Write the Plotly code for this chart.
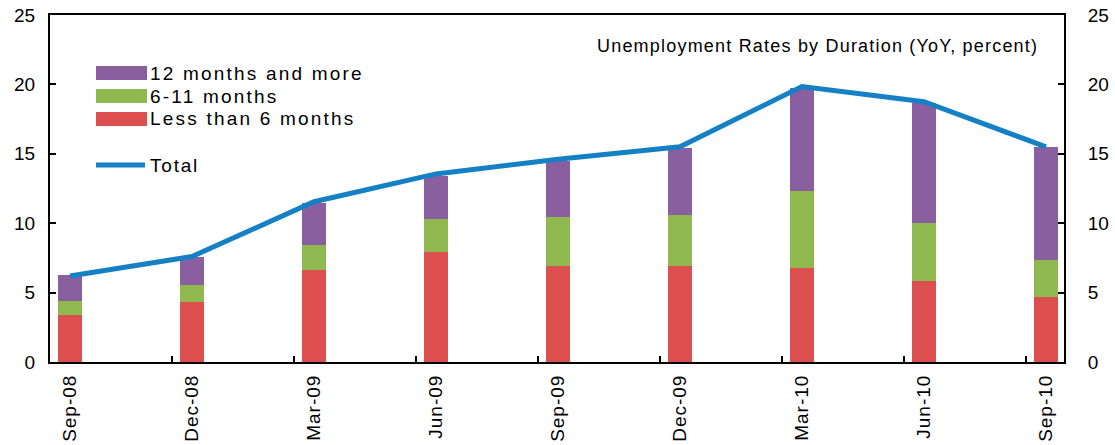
import plotly.graph_objects as go

categories = ["Sep-08", "Dec-08", "Mar-09", "Jun-09", "Sep-09", "Dec-09", "Mar-10", "Jun-10", "Sep-10"]
less_than_6 = [3.4, 4.35, 6.65, 7.9, 6.95, 6.95, 6.8, 5.85, 4.65]
m6_11 = [1.0, 1.2, 1.75, 2.4, 3.5, 3.65, 5.55, 4.2, 2.7]
m12_plus = [1.85, 2.05, 3.05, 3.1, 4.0, 4.85, 7.4, 8.6, 8.15]
total = [6.2, 7.6, 11.55, 13.55, 14.6, 15.5, 19.85, 18.75, 15.5]
y_ticks = [0, 5, 10, 15, 20, 25]

RED = "#DD4F4E"
GREEN = "#8FB84E"
PURPLE = "#8A5FA0"
BLUE = "#1580C4"
FONT = "Liberation Sans, Arial, sans-serif"


def spaced(s, sp):
    return f'<span style="letter-spacing:{sp}px">{s}</span>'


x = list(range(len(categories)))

fig = go.Figure()
fig.add_trace(go.Bar(x=x, y=less_than_6, marker=dict(color=RED, line=dict(width=0)), width=0.19, name="Less than 6 months"))
fig.add_trace(go.Bar(x=x, y=m6_11, marker=dict(color=GREEN, line=dict(width=0)), width=0.19, name="6-11 months"))
fig.add_trace(go.Bar(x=x, y=m12_plus, marker=dict(color=PURPLE, line=dict(width=0)), width=0.19, name="12 months and more"))
fig.add_trace(go.Scatter(x=x, y=total, mode="lines", line=dict(color=BLUE, width=5), name="Total"))
# invisible trace to activate right axis
fig.add_trace(go.Scatter(x=[x[0]], y=[0], yaxis="y2", mode="markers", marker=dict(opacity=0), showlegend=False, hoverinfo="skip"))

boundaries = [i + 0.836 for i in range(len(categories) - 1)]

fig.update_layout(
    width=1115, height=445,
    margin=dict(l=50, r=51, t=15, b=83),
    barmode="stack",
    showlegend=False,
    plot_bgcolor="white", paper_bgcolor="white",
    font=dict(family=FONT, size=19, color="black"),
    xaxis=dict(
        range=[-0.164, 8.148], tickmode="array", tickvals=x,
        ticktext=[spaced(c, 1) for c in categories],
        tickangle=-90, ticks="", showgrid=False, zeroline=False,
        showline=True, linecolor="black", linewidth=2, mirror=True,
        tickfont=dict(size=19), ticklabelstandoff=3, automargin=False,
        minor=dict(tickmode="array", tickvals=boundaries, ticks="inside", ticklen=6, tickwidth=2, tickcolor="black"),
    ),
    yaxis=dict(
        range=[0, 25], tickvals=y_ticks, ticks="inside", ticklen=6, tickwidth=2, tickcolor="black",
        showgrid=False, zeroline=False, showline=True, linecolor="black", linewidth=2,
        tickfont=dict(size=19), ticklabelstandoff=9, automargin=False,
    ),
    yaxis2=dict(
        range=[0, 25], tickvals=y_ticks, ticks="inside", ticklen=6, tickwidth=2, tickcolor="black",
        overlaying="y", side="right", showgrid=False, zeroline=False, showline=True,
        linecolor="black", linewidth=2, tickfont=dict(size=19), ticklabelstandoff=18, automargin=False,
    ),
)

# Title annotation
fig.add_annotation(xref="paper", yref="paper", x=0.976, y=0.912, xanchor="right", yanchor="middle",
                   text=spaced("Unemployment Rates by Duration (YoY, percent)", 1.2), showarrow=False,
                   font=dict(size=18, family=FONT))

# Manual legend
pl, pt, pw, ph = 50, 15, 1115 - 50 - 51, 445 - 15 - 83


def px2paper(xp, yp):
    return (xp - pl) / pw, 1 - (yp - pt) / ph


legend_items = [("12 months and more", PURPLE, 73), ("6-11 months", GREEN, 96), ("Less than 6 months", RED, 119)]
for label, color, yc in legend_items:
    x0, y0 = px2paper(96, yc - 7)
    x1, y1 = px2paper(147, yc + 7)
    fig.add_shape(type="rect", xref="paper", yref="paper", x0=x0, x1=x1, y0=y1, y1=y0,
                  fillcolor=color, line=dict(width=0))
    tx, ty = px2paper(148, yc)
    fig.add_annotation(xref="paper", yref="paper", x=tx, y=ty, xanchor="left", yanchor="middle",
                       text=spaced(label, 2.2), showarrow=False, font=dict(size=19, family=FONT))

lx0, ly = px2paper(96, 165)
lx1, _ = px2paper(145, 165)
fig.add_shape(type="line", xref="paper", yref="paper", x0=lx0, x1=lx1, y0=ly, y1=ly,
              line=dict(color=BLUE, width=5))
tx, ty = px2paper(148, 165)
fig.add_annotation(xref="paper", yref="paper", x=tx, y=ty, xanchor="left", yanchor="middle",
                   text=spaced("Total", 1.8), showarrow=False, font=dict(size=19, family=FONT))

fig.write_html("out.html")
